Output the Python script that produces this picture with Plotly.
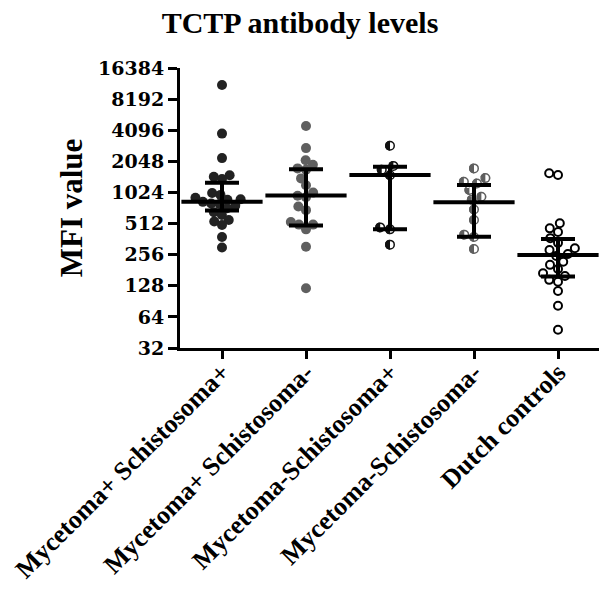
import numpy as np
import plotly.graph_objects as go

# --- data (MFI values) ---
groups = [
    "Mycetoma+ Schistosoma+",
    "Mycetoma+ Schistosoma-",
    "Mycetoma-Schistosoma+",
    "Mycetoma-Schistosoma-",
    "Dutch controls",
]
myc_pos_sch_pos = [11200, 3800, 2200, 1500, 1450, 1380, 1010, 970, 910, 880, 870,
                   830, 800, 790, 760, 720, 660, 620, 555, 535, 495, 380, 300]
myc_pos_sch_neg = [4500, 2750, 2100, 1900, 1750, 1700, 1400, 1200, 1020, 950, 920,
                   750, 690, 530, 500, 500, 450, 305, 121]
myc_neg_sch_pos = [2900, 1850, 1700, 1500, 470, 450, 320]
myc_neg_sch_neg = [1750, 1410, 1300, 1250, 1080, 930, 870, 700, 555, 400, 380, 290]
dutch_controls = [1570, 1510, 516, 460, 424, 370, 333, 295, 284, 260, 249, 219,
                  204, 186, 169, 159, 146, 140, 114, 82, 48]

medians = [834, 954, 1513, 823, 254]
q1 = [683, 489, 451, 382, 157]
q3 = [1274, 1718, 1820, 1211, 363]

y_ticks = [32, 64, 128, 256, 512, 1024, 2048, 4096, 8192, 16384]

# --- layout geometry (page body adds an 8px offset, so the figure is 8px smaller) ---
W, H = 599, 592
MARGIN = dict(l=172, r=7, t=60, b=252)
PX_PER_CAT = (W - MARGIN["l"] - MARGIN["r"]) / len(groups)
PX_PER_LOG2 = (H - MARGIN["t"] - MARGIN["b"]) / np.log2(y_ticks[-1] / y_ticks[0])

SERIF = "Liberation Serif, Times New Roman, serif"
GRAY = "#5f5f5f"
DOT = 10  # marker diameter, px


def swarm(vals, d=9.0):
    """Greedy beeswarm: x offsets (category units) so dots don't overlap."""
    ys = np.log2(np.asarray(vals, float)) * PX_PER_LOG2
    out = np.zeros(len(ys))
    placed = []
    for i in np.argsort(ys):
        y = ys[i]
        near = [(x, yy) for x, yy in placed if abs(yy - y) < d]
        cands = [0.0]
        for x, yy in near:
            dx = np.sqrt(d * d - (yy - y) ** 2)
            cands += [x + dx, x - dx]
        cands.sort(key=lambda c: (abs(c), c))
        for c in cands:
            if all((c - x) ** 2 + (y - yy) ** 2 >= d * d - 1e-6 for x, yy in near):
                out[i] = c
                break
        placed.append((out[i], y))
    return out / PX_PER_CAT


fig = go.Figure()

series = [myc_pos_sch_pos, myc_pos_sch_neg, myc_neg_sch_pos, myc_neg_sch_neg, dutch_controls]

# filled dots
for i, (vals, col) in enumerate([(series[0], "#222222"), (series[1], GRAY)]):
    fig.add_trace(go.Scatter(
        x=i + swarm(vals, 8.5), y=vals, mode="markers",
        marker=dict(size=DOT, color=col, line=dict(width=0)),
        showlegend=False, hoverinfo="y",
    ))

# half-filled dots: filled disc, white right half, then outline on top
for i, col in [(2, "#111111"), (3, GRAY)]:
    vals = series[i]
    xs = i + swarm(vals, 10)
    half = (DOT / 4) / PX_PER_CAT
    fig.add_trace(go.Scatter(
        x=xs, y=vals, mode="markers",
        marker=dict(size=DOT, color=col, line=dict(width=0)),
        showlegend=False, hoverinfo="y",
    ))
    fig.add_trace(go.Scatter(
        x=xs + half, y=vals, mode="markers",
        marker=dict(symbol="line-ns", size=DOT - 1,
                    line=dict(width=DOT / 2, color="white")),
        showlegend=False, hoverinfo="skip",
    ))
    fig.add_trace(go.Scatter(
        x=xs, y=vals, mode="markers",
        marker=dict(size=DOT - 1.5, color="rgba(0,0,0,0)",
                    line=dict(width=1.5, color=col)),
        showlegend=False, hoverinfo="skip",
    ))

# open dots
fig.add_trace(go.Scatter(
    x=4 + swarm(series[4], 9), y=series[4], mode="markers",
    marker=dict(size=8, color="white", line=dict(width=2, color="black")),
    showlegend=False, hoverinfo="y",
))

# median with interquartile range
fig.add_trace(go.Scatter(
    x=list(range(len(groups))), y=medians, mode="markers",
    marker=dict(symbol="line-ew", size=58, line=dict(width=4, color="black")),
    error_y=dict(type="data", symmetric=False,
                 array=[b - m for b, m in zip(q3, medians)],
                 arrayminus=[m - a for m, a in zip(medians, q1)],
                 color="black", thickness=4, width=17),
    showlegend=False, hoverinfo="skip",
))

fig.update_layout(
    width=W, height=H,
    margin=MARGIN,
    paper_bgcolor="white", plot_bgcolor="white",
    font=dict(family=SERIF, color="black"),
    title=dict(text="TCTP antibody levels", x=0.4875, xanchor="center",
               yref="container", y=0.993, yanchor="top",
               font=dict(family=SERIF, size=30, weight="bold", color="black")),
)
fig.update_xaxes(
    range=[-0.5, len(groups) - 0.5], automargin=False,
    tickvals=list(range(len(groups))), ticktext=groups, tickangle=-45,
    tickfont=dict(family=SERIF, size=26, weight="bold"),
    ticklabelstandoff=-12, ticklabeloverflow="allow",
    showline=True, linecolor="black", linewidth=3,
    ticks="outside", ticklen=8, tickwidth=2.5, tickcolor="black",
    showgrid=False, zeroline=False,
)
fig.update_yaxes(
    type="log", automargin=False,
    range=[np.log10(y_ticks[0]), np.log10(y_ticks[-1])],
    tickvals=y_ticks, ticktext=[str(v) for v in y_ticks],
    tickfont=dict(family="DejaVu Serif", size=19, weight="bold"),
    title=dict(text="MFI value", standoff=7,
               font=dict(family=SERIF, size=31, weight="bold")),
    showline=True, linecolor="black", linewidth=3,
    ticks="outside", ticklen=9, tickwidth=2.5, tickcolor="black",
    showgrid=False, zeroline=False,
)

fig.write_html("out.html")
